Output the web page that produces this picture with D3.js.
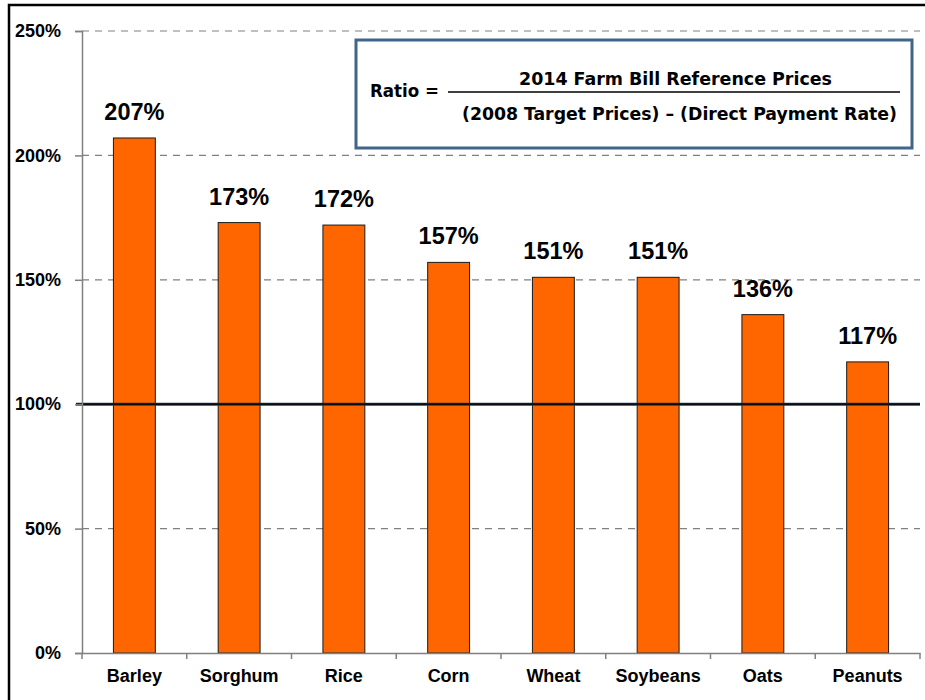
<!DOCTYPE html>
<html>
<head>
<meta charset="utf-8">
<script src="https://cdn.jsdelivr.net/npm/d3@7"></script>
<style>
  body { margin: 0; background: #fff; }
</style>
</head>
<body>
<div id="chart"></div>
<script>
let crops = ['Barley', 'Sorghum', 'Rice', 'Corn', 'Wheat', 'Soybeans', 'Oats', 'Peanuts']
let ratios = [207, 173, 172, 157, 151, 151, 136, 117]
let yTicks = [0, 50, 100, 150, 200, 250]

let margin = { top: 31, left: 82, right: 5, bottom: 47 }
let width = 925 - margin.left - margin.right
let height = 700 - margin.top - margin.bottom
let mainFont = '"Liberation Sans", Arial, sans-serif'

let svg = d3.select('#chart')
  .append('svg')
  .attr('width', 925)
  .attr('height', 700)
  .attr('font-family', mainFont)

// outer frame
svg.append('rect')
  .attr('x', 9).attr('y', 5)
  .attr('width', 925).attr('height', 700)
  .attr('fill', 'none')
  .attr('stroke', 'black')
  .attr('stroke-width', 2.5)

let g = svg.append('g')
  .attr('transform', `translate(${margin.left},${margin.top})`)

let xScale = d3.scaleBand().domain(crops).range([0, width]).paddingInner(0.6).paddingOuter(0.3)
let yScale = d3.scaleLinear().domain([0, 250]).range([height, 0])

// dashed gridlines
g.selectAll('.grid')
  .data(yTicks.filter(d => d !== 0 && d !== 100))
  .enter()
  .append('line')
  .attr('x1', 0)
  .attr('x2', width)
  .attr('y1', d => yScale(d))
  .attr('y2', d => yScale(d))
  .attr('stroke', '#808080')
  .attr('stroke-width', 1.2)
  .attr('stroke-dasharray', '7,6')

// bars
g.selectAll('.bar')
  .data(ratios)
  .enter()
  .append('rect')
  .attr('x', (d, i) => xScale(crops[i]))
  .attr('y', d => yScale(d))
  .attr('width', xScale.bandwidth())
  .attr('height', d => height - yScale(d))
  .attr('fill', '#ff6600')
  .attr('stroke', '#1a1a1a')
  .attr('stroke-width', 1)

// value labels
g.selectAll('.value-label')
  .data(ratios)
  .enter()
  .append('text')
  .text(d => d + '%')
  .attr('x', (d, i) => xScale(crops[i]) + xScale.bandwidth() / 2)
  .attr('y', d => yScale(d) - 18)
  .attr('text-anchor', 'middle')
  .attr('font-size', 23.5)
  .attr('font-weight', 'bold')

// 100% reference line
g.append('line')
  .attr('x1', -6).attr('x2', width)
  .attr('y1', yScale(100)).attr('y2', yScale(100))
  .attr('stroke', '#1f3b57')
  .attr('stroke-width', 3)
g.append('line')
  .attr('x1', -6).attr('x2', width)
  .attr('y1', yScale(100)).attr('y2', yScale(100))
  .attr('stroke', 'black')
  .attr('stroke-width', 1.2)

// y axis
let yAxis = d3.axisLeft(yScale)
  .tickValues(yTicks)
  .tickFormat(d => d + '%')
  .tickSize(7)
  .tickPadding(14)
g.append('g')
  .call(yAxis)
  .call(a => a.select('.domain').attr('stroke', '#808080').attr('stroke-width', 1.5))
  .call(a => a.selectAll('.tick line').attr('stroke', '#808080').attr('stroke-width', 1.5))
  .call(a => a.selectAll('text')
    .attr('font-size', 18)
    .attr('font-weight', 'bold')
    .attr('fill', 'black')
    .attr('font-family', mainFont))

// x axis
let xAxis = d3.axisBottom(xScale).tickSize(0).tickPadding(16)
g.append('g')
  .attr('transform', `translate(0,${height})`)
  .call(xAxis)
  .call(a => a.select('.domain').attr('stroke', '#808080').attr('stroke-width', 1.5))
  .call(a => a.selectAll('text')
    .attr('font-size', 18)
    .attr('font-weight', 'bold')
    .attr('fill', 'black')
    .attr('font-family', mainFont))

// category separator ticks
g.selectAll('.sep')
  .data(d3.range(crops.length + 1))
  .enter()
  .append('line')
  .attr('x1', d => d * width / crops.length)
  .attr('x2', d => d * width / crops.length)
  .attr('y1', height)
  .attr('y2', height + 6)
  .attr('stroke', '#808080')
  .attr('stroke-width', 1.5)

// formula box
let box = svg.append('g')
box.append('rect')
  .attr('x', 356).attr('y', 40)
  .attr('width', 556).attr('height', 108)
  .attr('fill', 'white')
  .attr('stroke', '#41658a')
  .attr('stroke-width', 3)

let formulaFont = '"DejaVu Sans Condensed", "DejaVu Sans", sans-serif'
box.append('text')
  .text('Ratio =')
  .attr('x', 370).attr('y', 97)
  .attr('font-family', formulaFont)
  .attr('font-size', 18)
  .attr('font-weight', 'bold')
  .attr('textLength', 69)
  .attr('lengthAdjust', 'spacingAndGlyphs')

box.append('text')
  .text('2014 Farm Bill Reference Prices')
  .attr('x', 519).attr('y', 85)
  .attr('font-family', formulaFont)
  .attr('font-size', 18)
  .attr('font-weight', 'bold')
  .attr('textLength', 313)
  .attr('lengthAdjust', 'spacingAndGlyphs')

box.append('line')
  .attr('x1', 448).attr('x2', 900)
  .attr('y1', 92).attr('y2', 92)
  .attr('stroke', 'black')
  .attr('stroke-width', 1.5)

box.append('text')
  .text('(2008 Target Prices) \u2013 (Direct Payment Rate)')
  .attr('x', 462).attr('y', 120)
  .attr('font-family', formulaFont)
  .attr('font-size', 18)
  .attr('font-weight', 'bold')
  .attr('textLength', 435)
  .attr('lengthAdjust', 'spacingAndGlyphs')
</script>
</body>
</html>
